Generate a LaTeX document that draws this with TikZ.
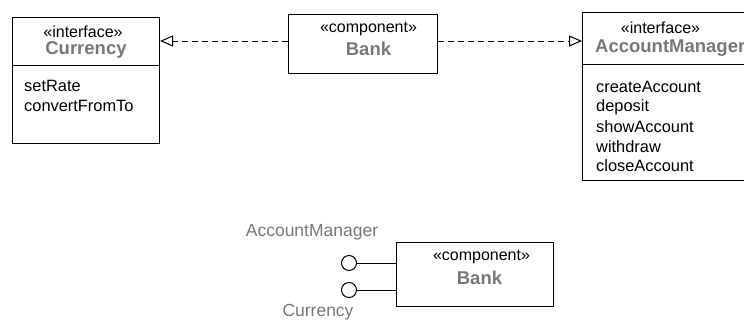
\documentclass[tikz,border=0pt]{standalone}
\usepackage{fontspec}
\setmainfont{Liberation Sans}
\usetikzlibrary{arrows.meta}
\definecolor{namegray}{RGB}{120,120,120}
\tikzset{
  umlbox/.style={draw, line width=1pt, rectangle, inner sep=0pt, anchor=north west},
  stereo/.style={font=\fontsize{16}{19}\selectfont, inner sep=0pt},
  cname/.style={font=\fontsize{18.5}{22}\selectfont\bfseries, text=namegray, inner sep=0pt},
  oper/.style={font=\fontsize{16.4}{19}\selectfont, inner sep=0pt, anchor=west},
  plainlabel/.style={font=\fontsize{17.5}{21}\selectfont, text=namegray, inner sep=0pt},
  realize/.style={line width=1pt, dash pattern=on 6pt off 4pt, -{Triangle[open, length=13pt, width=11pt]}},
  lolli/.style={draw, circle, line width=1pt, minimum size=15pt, inner sep=0pt},
  wire/.style={line width=1pt}
}
\begin{document}
\begin{tikzpicture}[x=1pt, y=-1pt]
\useasboundingbox (0,0) rectangle (744,327);

% Currency interface
\node[umlbox, minimum width=147pt, minimum height=126pt] (cur) at (12,17) {};
\draw[line width=1pt] (cur.west |- 0,65) -- (cur.east |- 0,65);
\node[stereo] (curst) at (83,32) {«interface»};
\node[cname] (curnm) at (86,50) {Currency};
\node[oper] (op1) at (24,86) {setRate};
\node[oper] (op2) at (24,106) {convertFromTo};

% Bank component (top)
\node[umlbox, minimum width=149pt, minimum height=59pt] (bank) at (288,14) {};
\node[stereo] (bankst) at (368.5,29) {«component»};
\node[cname] (banknm) at (368.5,49) {Bank};

% AccountManager interface
\node[umlbox, minimum width=180pt, minimum height=168pt] (am) at (582,12) {};
\draw[line width=1pt] (am.west |- 0,64) -- (am.east |- 0,64);
\node[stereo] (amst) at (660.5,28) {«interface»};
\node[cname, anchor=west] (amnm) at (595,48) {AccountManager};
\node[oper] (am1) at (596,87) {createAccount};
\node[oper] (am2) at (596,107) {deposit};
\node[oper] (am3) at (596,127) {showAccount};
\node[oper] (am4) at (596,147) {withdraw};
\node[oper] (am5) at (596,166) {closeAccount};

% realization arrows
\draw[realize] (bank.west |- 0,41) -- (cur.east |- 0,41);
\draw[realize] (bank.east |- 0,41) -- (am.west |- 0,41);

% Bank component with provided interfaces (bottom)
\node[umlbox, minimum width=157pt, minimum height=64pt] (bank2) at (396,242) {};
\node[stereo] (bank2st) at (481.5,257) {«component»};
\node[cname] (bank2nm) at (479.5,278) {Bank};
\node[lolli] (lamc) at (349,263) {};
\node[lolli] (lcur) at (349,290) {};
\draw[wire] (lamc.east) -- (lamc.east -| bank2.west);
\draw[wire] (lcur.east) -- (lcur.east -| bank2.west);
\node[plainlabel] (lblam) at (312,232) {AccountManager};
\node[plainlabel] (lblcur) at (318,312) {Currency};
\end{tikzpicture}
\end{document}
